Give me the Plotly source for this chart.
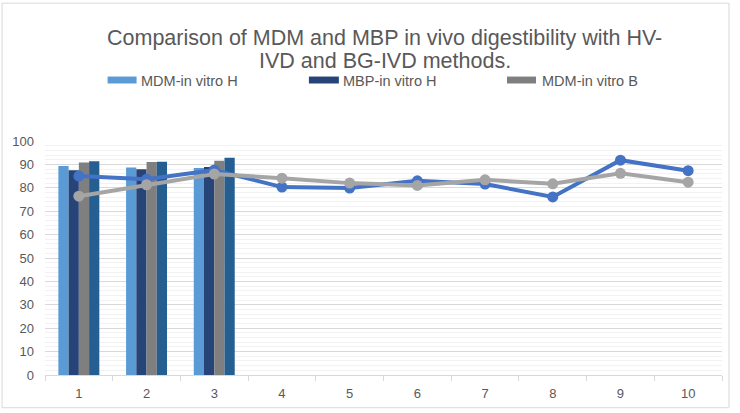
import plotly.graph_objects as go

categories = [str(i) for i in range(1, 11)]
bar_categories = ["1", "2", "3"]

mdm_vitro_h = [89.3, 88.7, 88.5]
mbp_vitro_h = [87.5, 87.9, 88.9]
mdm_vitro_b = [90.8, 91.0, 91.6]
mbp_vitro_b = [91.3, 91.1, 92.8]

mdm_vivo = [85.0, 83.7, 87.6, 80.3, 79.9, 83.0, 81.6, 76.1, 91.8, 87.3]
mbp_vivo = [76.4, 81.3, 85.9, 84.1, 82.0, 81.0, 83.4, 81.7, 86.2, 82.4]

bar_names = ["MDM-in vitro H", "MBP-in vitro H", "MDM-in vitro B", "MBP-in vitro B"]
bar_values = [mdm_vitro_h, mbp_vitro_h, mdm_vitro_b, mbp_vitro_b]
bar_colors = ["#5B9BD5", "#264478", "#7F7F7F", "#255E91"]

line_names = ["MDM-in vivo", "MBP-in vivo"]
line_values = [mdm_vivo, mbp_vivo]
line_colors = ["#4472C4", "#A5A5A5"]

title_lines = ["Comparison of MDM and MBP in vivo digestibility with HV-",
               "IVD and BG-IVD methods."]

W, H = 740, 413
L, R, T, B = 44, 18, 141, 36
PW, PH = W - L - R, H - T - B


def px_x(x):
    return (x - L) / PW


def px_y(y):
    return (H - B - y) / PH


fig = go.Figure()
for name, vals, col in zip(bar_names, bar_values, bar_colors):
    fig.add_trace(go.Bar(x=bar_categories, y=vals, name=name, marker_color=col,
                         marker_line_width=0, showlegend=False))
for name, vals, col in zip(line_names, line_values, line_colors):
    fig.add_trace(go.Scatter(x=categories, y=vals, name=name, mode="lines+markers",
                             line=dict(color=col, width=4),
                             marker=dict(color=col, size=11), showlegend=False))

# title (two lines, tight spacing as in the reference)
for txt, yc in zip(title_lines, [37.5, 60.5]):
    fig.add_annotation(text=txt, xref="paper", yref="paper", x=px_x(384.5), y=px_y(yc),
                       xanchor="center", yanchor="middle", showarrow=False,
                       font=dict(size=21.5, color="#595959"))

# manual legend (first three bar series, as in the reference)
legend_swatches = [(106.7, 135.7), (308.3, 338.3), (506.7, 535.7)]
legend_text_x = [138.5, 340.7, 540.0]
for i in range(3):
    x0, x1 = legend_swatches[i]
    fig.add_shape(type="rect", xref="paper", yref="paper",
                  x0=px_x(x0), x1=px_x(x1), y0=px_y(83), y1=px_y(76),
                  fillcolor=bar_colors[i], line_width=0)
    fig.add_annotation(text=bar_names[i], xref="paper", yref="paper",
                       x=px_x(legend_text_x[i]), y=px_y(80), xanchor="left",
                       yanchor="middle", showarrow=False,
                       font=dict(size=14.5, color="#595959"))

# outer chart border
fig.add_shape(type="rect", xref="paper", yref="paper",
              x0=px_x(1), x1=px_x(729), y0=px_y(410), y1=px_y(2),
              line=dict(color="#D9D9D9", width=1), fillcolor="rgba(0,0,0,0)", layer="below")

fig.update_layout(
    width=W, height=H,
    margin=dict(l=L, r=R, t=T, b=B),
    paper_bgcolor="white", plot_bgcolor="white",
    font=dict(family="Liberation Sans, Arial, sans-serif", color="#595959"),
    barmode="group", bargap=0.395, bargroupgap=0,
    xaxis=dict(type="category", categoryorder="array", categoryarray=categories,
               range=[-0.5, 9.5], showline=True, linecolor="#D9D9D9", linewidth=1,
               ticks="outside", tickson="boundaries", ticklen=5, tickcolor="#D9D9D9",
               showgrid=False, ticklabelstandoff=6,
               tickfont=dict(size=13, color="#595959")),
    yaxis=dict(range=[0, 100], dtick=10, showline=False, zeroline=False,
               gridcolor="#D9D9D9", gridwidth=1, ticks="", ticklabelstandoff=10,
               tickfont=dict(size=13, color="#595959"),
               minor=dict(dtick=2, showgrid=True, gridcolor="#F2F2F2", gridwidth=1)),
)

fig.write_html("out.html", config={"displayModeBar": False},
               post_script="document.body.style.margin='0';")
